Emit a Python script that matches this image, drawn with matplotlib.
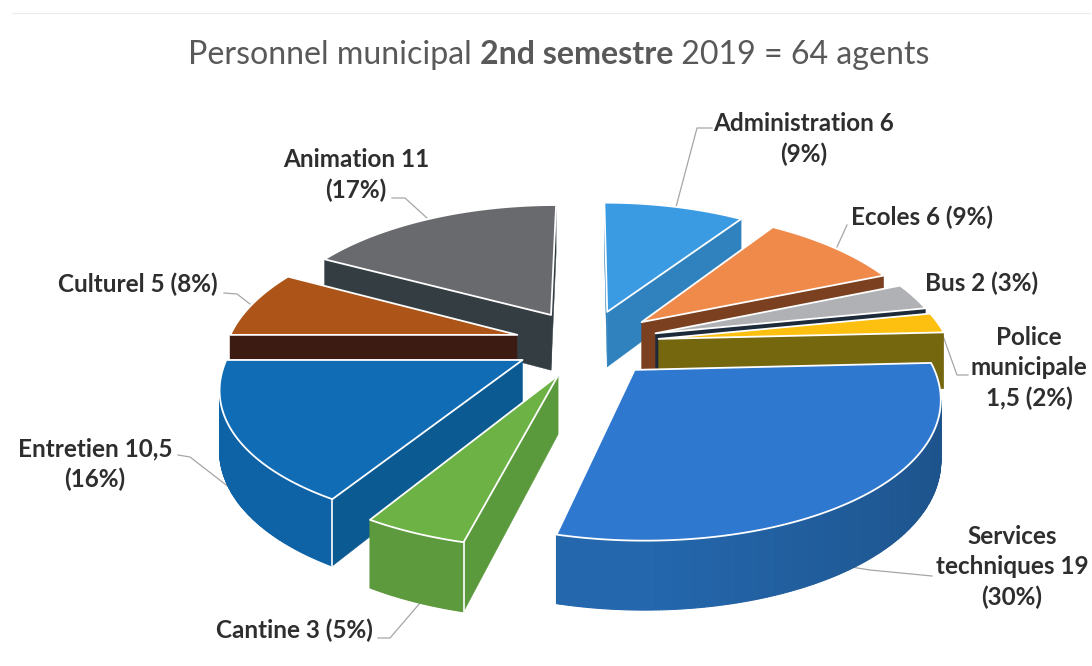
import numpy as np
import matplotlib
matplotlib.use("Agg")
import matplotlib.pyplot as plt
from matplotlib.colors import to_rgb
from matplotlib.patches import Polygon

# Effectifs par service, dans le sens horaire depuis le haut
services = ['Administration', 'Ecoles', 'Bus', 'Police municipale', 'Services techniques',
            'Cantine', 'Entretien', 'Culturel', 'Animation']
agents = [6, 6, 2, 1.5, 19, 3, 10.5, 5, 11]

top_colors = ['#3a9be3', '#f08a4b', '#b0b1b5', '#fdc010', '#2f78d0',
              '#6cb245', '#0f6cb5', '#ad5518', '#696a6e']
rim_colors = ['#2f82bd', '#7a4020', '#1d2a3a', '#74670e', '#2467ad',
              '#5d9a3e', '#0e62a6', '#3c1c12', '#333d42']
side_colors = ['#2f82bd', '#7a4020', '#1d2a3a', '#74670e', '#2467ad',
               '#5b9a3c', '#0b5a92', '#3c1c12', '#333d42']

labels = [
    ('Administration 6\n(9%)', 804, 139),
    ('Ecoles 6 (9%)', 922, 217),
    ('Bus 2 (3%)', 982, 283),
    ('Police\nmunicipale\n1,5 (2%)', 1029, 368),
    ('Services\ntechniques 19\n(30%)', 1012, 567),
    ('Cantine 3 (5%)', 294, 630),
    ('Entretien 10,5\n(16%)', 95, 464),
    ('Culturel 5 (8%)', 138, 284),
    ('Animation 11\n(17%)', 356, 175),
]
leaders = [
    [(712, 128), (697, 128), (676, 207)],
    [(847, 225), (837, 247)],
    [],
    [(942, 333), (957, 375), (968, 375)],
    [(826, 563), (870, 570), (932, 576)],
    [(378, 638), (390, 638), (420, 603)],
    [(178, 455), (190, 457), (243, 498)],
    [(224, 293), (237, 294), (250, 304)],
    [(392, 198), (405, 198), (427, 218)],
]

# Camera du camembert 3D
CX, CY = 587, 343
SCALE_X = 290
SCALE_Y = 135
PERSP_X = 0.17
PERSP_Y = 0.155
PERSP_H = 0.15
EXPLODE = 0.25
HEIGHT = 57


def project(x, y, drop=0.0):
    return (CX + SCALE_X * x / (1 + PERSP_X * y),
            CY - SCALE_Y * y / (1 + PERSP_Y * y) + drop * HEIGHT / (1 + PERSP_H * y))


def area(q):
    q = np.array(q)
    return 0.5 * np.sum(q[:, 0] * np.roll(q[:, 1], -1) - np.roll(q[:, 0], -1) * q[:, 1])


def quad(u, v):
    return [project(*u), project(*v), project(*v, 1), project(*u, 1)]


plt.rcParams['font.family'] = ['Lato', 'DejaVu Sans']
fig = plt.figure(figsize=(10.92, 6.66), dpi=100)
ax = fig.add_axes([0, 0, 1, 1])
ax.set_xlim(0, 1092)
ax.set_ylim(666, 0)
ax.axis('off')

ax.plot([12, 1090], [13, 13], color='#ececec', lw=0.8)

# Les traits de rappel passent sous les parts
for path in leaders:
    if path:
        ax.plot(*zip(*path), color='#a6a6a6', lw=0.9, zorder=0.5)

total = sum(agents)
edges = np.cumsum([0] + agents) / total * 2 * np.pi

wedges = []
for i in range(len(agents)):
    a0, a1 = edges[i], edges[i + 1]
    mid = (a0 + a1) / 2
    apex = (EXPLODE * np.sin(mid), EXPLODE * np.cos(mid))
    t = np.linspace(a0, a1, max(int((a1 - a0) * 120), 8))
    arc = [(apex[0] + np.sin(v), apex[1] + np.cos(v)) for v in t]
    wedges.append((apex[1] + 0.6 * np.cos(mid), i, apex, arc, t))

# Peint du fond vers l'avant
for depth, i, apex, arc, t in sorted(wedges, key=lambda w: -w[0]):
    first = quad(apex, arc[0])
    last = quad(arc[-1], apex)
    first_vis = area(first) < 0
    last_vis = area(last) < 0
    if first_vis:
        ax.add_patch(Polygon(first, fc=side_colors[i], ec=side_colors[i], lw=0.3))
    if last_vis:
        ax.add_patch(Polygon(last, fc=side_colors[i], ec=side_colors[i], lw=0.3))
    base = np.array(to_rgb(rim_colors[i]))
    rim_vis = []
    for j in range(len(arc) - 1):
        q = quad(arc[j], arc[j + 1])
        vis = area(q) < 0
        rim_vis.append(vis)
        if vis:
            # le flanc droit est plus sombre
            shade = 1 - 0.2 * max(np.sin((t[j] + t[j + 1]) / 2), 0)
            c = np.clip(base * shade, 0, 1)
            ax.add_patch(Polygon(q, fc=c, ec=c, lw=0.8))
    if first_vis and rim_vis[0]:
        ax.plot(*zip(project(*arc[0]), project(*arc[0], 1)), color='white', lw=1.2)
    if last_vis and rim_vis[-1]:
        ax.plot(*zip(project(*arc[-1]), project(*arc[-1], 1)), color='white', lw=1.2)
    top = [project(*apex)] + [project(*p) for p in arc]
    ax.add_patch(Polygon(top, fc=top_colors[i], ec='white', lw=1.3, joinstyle='round'))

for text, x, y in labels:
    ax.text(x, y, text, ha='center', va='center', fontsize=17.5, fontweight='bold',
            color='#2e2e2e', linespacing=1.38)

# Titre en trois morceaux, seul le semestre est en gras
renderer = fig.canvas.get_renderer()
xpos = 188
for part, weight in [('Personnel municipal ', 'normal'), ('2nd semestre', 'bold'),
                     (' 2019 = 64 agents', 'normal')]:
    tx = ax.text(xpos, 55, part, ha='left', va='center', fontsize=23.1, fontweight=weight,
                 color='#595959')
    xpos = tx.get_window_extent(renderer).x1
fig.savefig('out.png', dpi=100)
